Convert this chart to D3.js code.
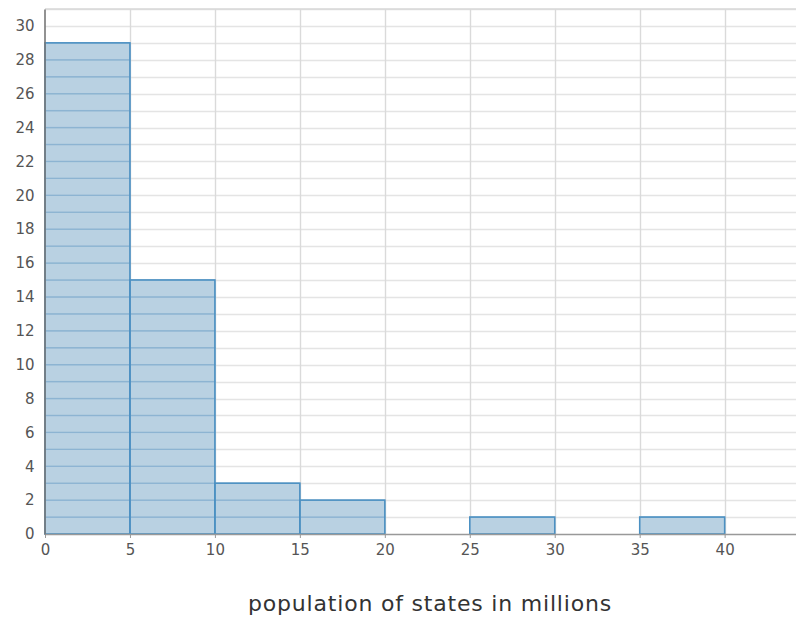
<!DOCTYPE html>
<html><head><meta charset="utf-8">
<script src="https://cdn.jsdelivr.net/npm/d3@7"></script>
<style>body{margin:0;background:#fff}svg{display:block}</style>
</head><body>
<script>
const binStarts = [0, 5, 10, 15, 20, 25, 30, 35];
const binWidth = 5;
const counts = [29, 15, 3, 2, 0, 1, 0, 1];
const xTicks = [0, 5, 10, 15, 20, 25, 30, 35, 40];
const yTicks = [0, 2, 4, 6, 8, 10, 12, 14, 16, 18, 20, 22, 24, 26, 28, 30];
const xLabel = "population of states in millions";

const W = 796, H = 622;
const m = {left: 45, right: 0, top: 9, bottom: 88};
const svg = d3.select("body").append("svg").attr("width", W).attr("height", H);
const x = d3.scaleLinear().domain([0, 44.2]).range([m.left, W - m.right]);
const y = d3.scaleLinear().domain([0, 31]).range([H - m.bottom, m.top]);

const g = svg.append("g");
// horizontal gridlines every unit
g.selectAll("line.hg").data(d3.range(1, 32)).join("line")
  .attr("x1", x(0)).attr("x2", W)
  .attr("y1", d => Math.round(y(d)) + 0.5).attr("y2", d => Math.round(y(d)) + 0.5)
  .attr("stroke", "#e4e4e4").attr("stroke-width", 1.4);
// vertical gridlines
g.selectAll("line.vg").data(xTicks.slice(1)).join("line")
  .attr("x1", d => Math.round(x(d)) + 0.5).attr("x2", d => Math.round(x(d)) + 0.5)
  .attr("y1", y(31)).attr("y2", y(0))
  .attr("stroke", "#dadada").attr("stroke-width", 1.4);

// bars as stacked unit cells
const bars = binStarts.map((s, i) => ({s, c: counts[i]})).filter(d => d.c > 0);
const cells = bars.flatMap(b => d3.range(b.c).map(k => ({s: b.s, k})));
g.selectAll("rect.cell").data(cells).join("rect")
  .attr("x", d => x(d.s)).attr("width", d => x(d.s + binWidth) - x(d.s))
  .attr("y", d => y(d.k + 1)).attr("height", d => y(d.k) - y(d.k + 1))
  .attr("fill", "#b9d1e2")
  .attr("stroke", "#8db4d2").attr("stroke-width", 1.3);
g.selectAll("rect.bar").data(bars).join("rect")
  .attr("x", d => x(d.s)).attr("width", d => x(d.s + binWidth) - x(d.s))
  .attr("y", d => y(d.c)).attr("height", d => y(0) - y(d.c))
  .attr("fill", "none")
  .attr("stroke", "#4b90c2").attr("stroke-width", 1.5);

// top border
svg.append("line").attr("x1", x(0)).attr("x2", W).attr("y1", y(31)).attr("y2", y(31))
  .attr("stroke", "#d8d8d8").attr("stroke-width", 1.5);

// x axis
const xAxis = d3.axisBottom(x).tickValues(xTicks).tickSize(4).tickFormat(d3.format("d"));
const xg = svg.append("g").attr("transform", `translate(0,${y(0)})`).call(xAxis);
xg.select(".domain").attr("stroke", "#999").attr("stroke-width", 1.5).attr("d", `M${x(0)},0.5H${W}`);
xg.selectAll(".tick line").attr("stroke", "#999");
xg.selectAll("text").attr("font-family", "DejaVu Sans, sans-serif").attr("font-size", 15)
  .attr("fill", "#555").attr("dy", "0.95em");

// y axis
const yAxis = d3.axisLeft(y).tickValues(yTicks).tickSize(0).tickPadding(10).tickFormat(d3.format("d"));
const yg = svg.append("g").attr("transform", `translate(${x(0) - 0.5},0)`).call(yAxis);
yg.select(".domain").attr("stroke", "#777").attr("stroke-width", 1.6);
yg.selectAll("text").attr("font-family", "DejaVu Sans, sans-serif").attr("font-size", 15)
  .attr("fill", "#555");

svg.append("text").attr("x", 430).attr("y", 611).attr("text-anchor", "middle")
  .attr("font-family", "DejaVu Sans, sans-serif").attr("font-size", 22).attr("letter-spacing", 0.8)
  .attr("fill", "#333")
  .text(xLabel);
</script>
</body></html>
